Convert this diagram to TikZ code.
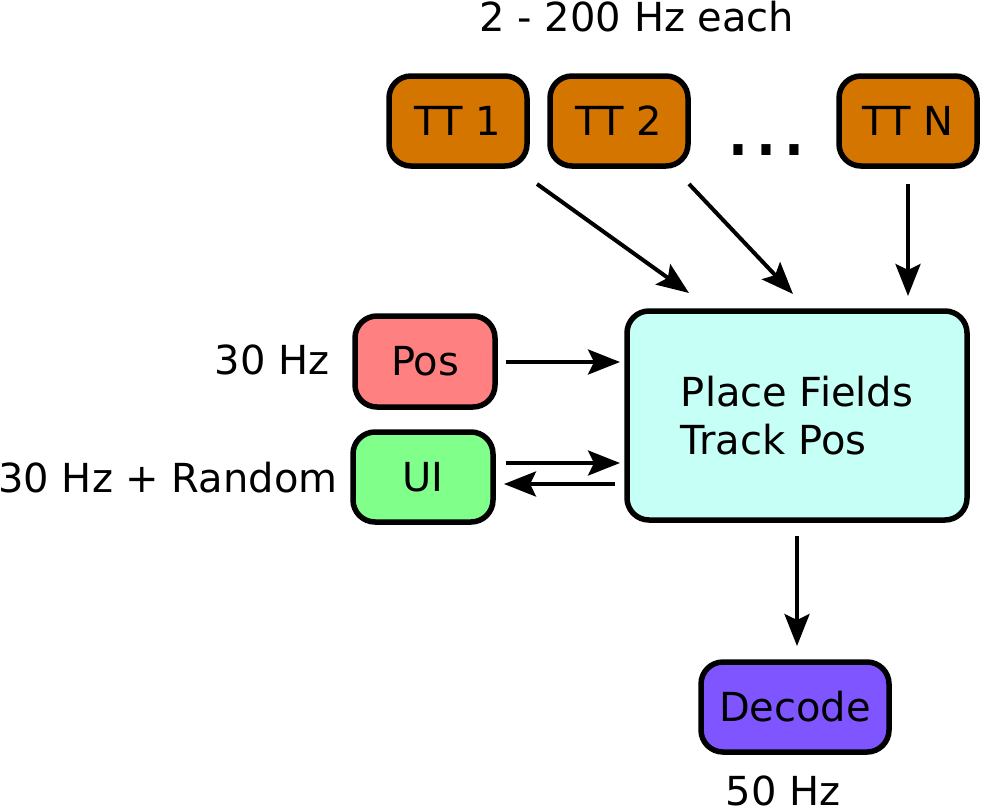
\documentclass[tikz,border=0pt]{standalone}
\usepackage{fontspec}
\setmainfont{DejaVu Sans}
\usetikzlibrary{arrows.meta}
\definecolor{ttcol}{HTML}{D47500}
\definecolor{poscol}{HTML}{FF8080}
\definecolor{uicol}{HTML}{80FF8A}
\definecolor{pfcol}{HTML}{C6FFF6}
\definecolor{deccol}{HTML}{7F55FF}
\begin{document}
\begin{tikzpicture}[x=1pt,y=-1pt,
  box/.style={draw=black,line width=5.5pt,rounded corners=22pt,inner sep=0pt,font=\fontsize{40}{48}\selectfont},
  ttbox/.style={box,fill=ttcol,minimum width=138pt,minimum height=90pt},
  lbl/.style={inner sep=0pt,font=\fontsize{40}{48}\selectfont},
  arr/.style={line width=4pt,-{Stealth[length=32pt,width=25pt,inset=6pt]}}]
\useasboundingbox (0,0) rectangle (981,808);
% boxes
\node[ttbox] (tt1) at (458,121) {TT 1};
\node[ttbox] (tt2) at (619,121) {TT 2};
\node[ttbox] (ttn) at (908,121) {TT N};
\node[lbl,font=\fontsize{88}{100}\selectfont] (dots) at (766,150) {...};
\node[box,fill=poscol,minimum width=140pt,minimum height=91pt] (pos) at (425,361.5) {Pos};
\node[box,fill=uicol,minimum width=140pt,minimum height=90pt] (ui) at (423,477) {UI};
\node[box,fill=pfcol,minimum width=340pt,minimum height=209pt,align=left] (pf) at (797,415.5) {Place Fields\\Track Pos};
\node[box,fill=deccol,minimum width=188pt,minimum height=90pt] (dec) at (795,707) {Decode};
% labels
\node[lbl] (top) at (637,17) {2 - 200 Hz each};
\node[lbl] (poslbl) at (272,360) {30 Hz};
\node[lbl] (uilbl) at (168,478) {30 Hz + Random};
\node[lbl] (declbl) at (783,791) {50 Hz};
% arrow ends
\coordinate (a1s) at (537,184); \coordinate (a1e) at (689,293);
\coordinate (a2s) at (689,184); \coordinate (a2e) at (793,294);
\coordinate (a3s) at (908,184); \coordinate (a3e) at (908,296);
\coordinate (a4s) at (506,362); \coordinate (a4e) at (620,362);
\coordinate (a5s) at (506,463); \coordinate (a5e) at (620,463);
\coordinate (a6s) at (615,484); \coordinate (a6e) at (504,484);
\coordinate (a7s) at (797,536); \coordinate (a7e) at (797,646);
\draw[arr] (a1s) -- (a1e);
\draw[arr] (a2s) -- (a2e);
\draw[arr] (a3s) -- (a3e);
\draw[arr] (a4s) -- (a4e);
\draw[arr] (a5s) -- (a5e);
\draw[arr] (a6s) -- (a6e);
\draw[arr] (a7s) -- (a7e);
\end{tikzpicture}
\end{document}
